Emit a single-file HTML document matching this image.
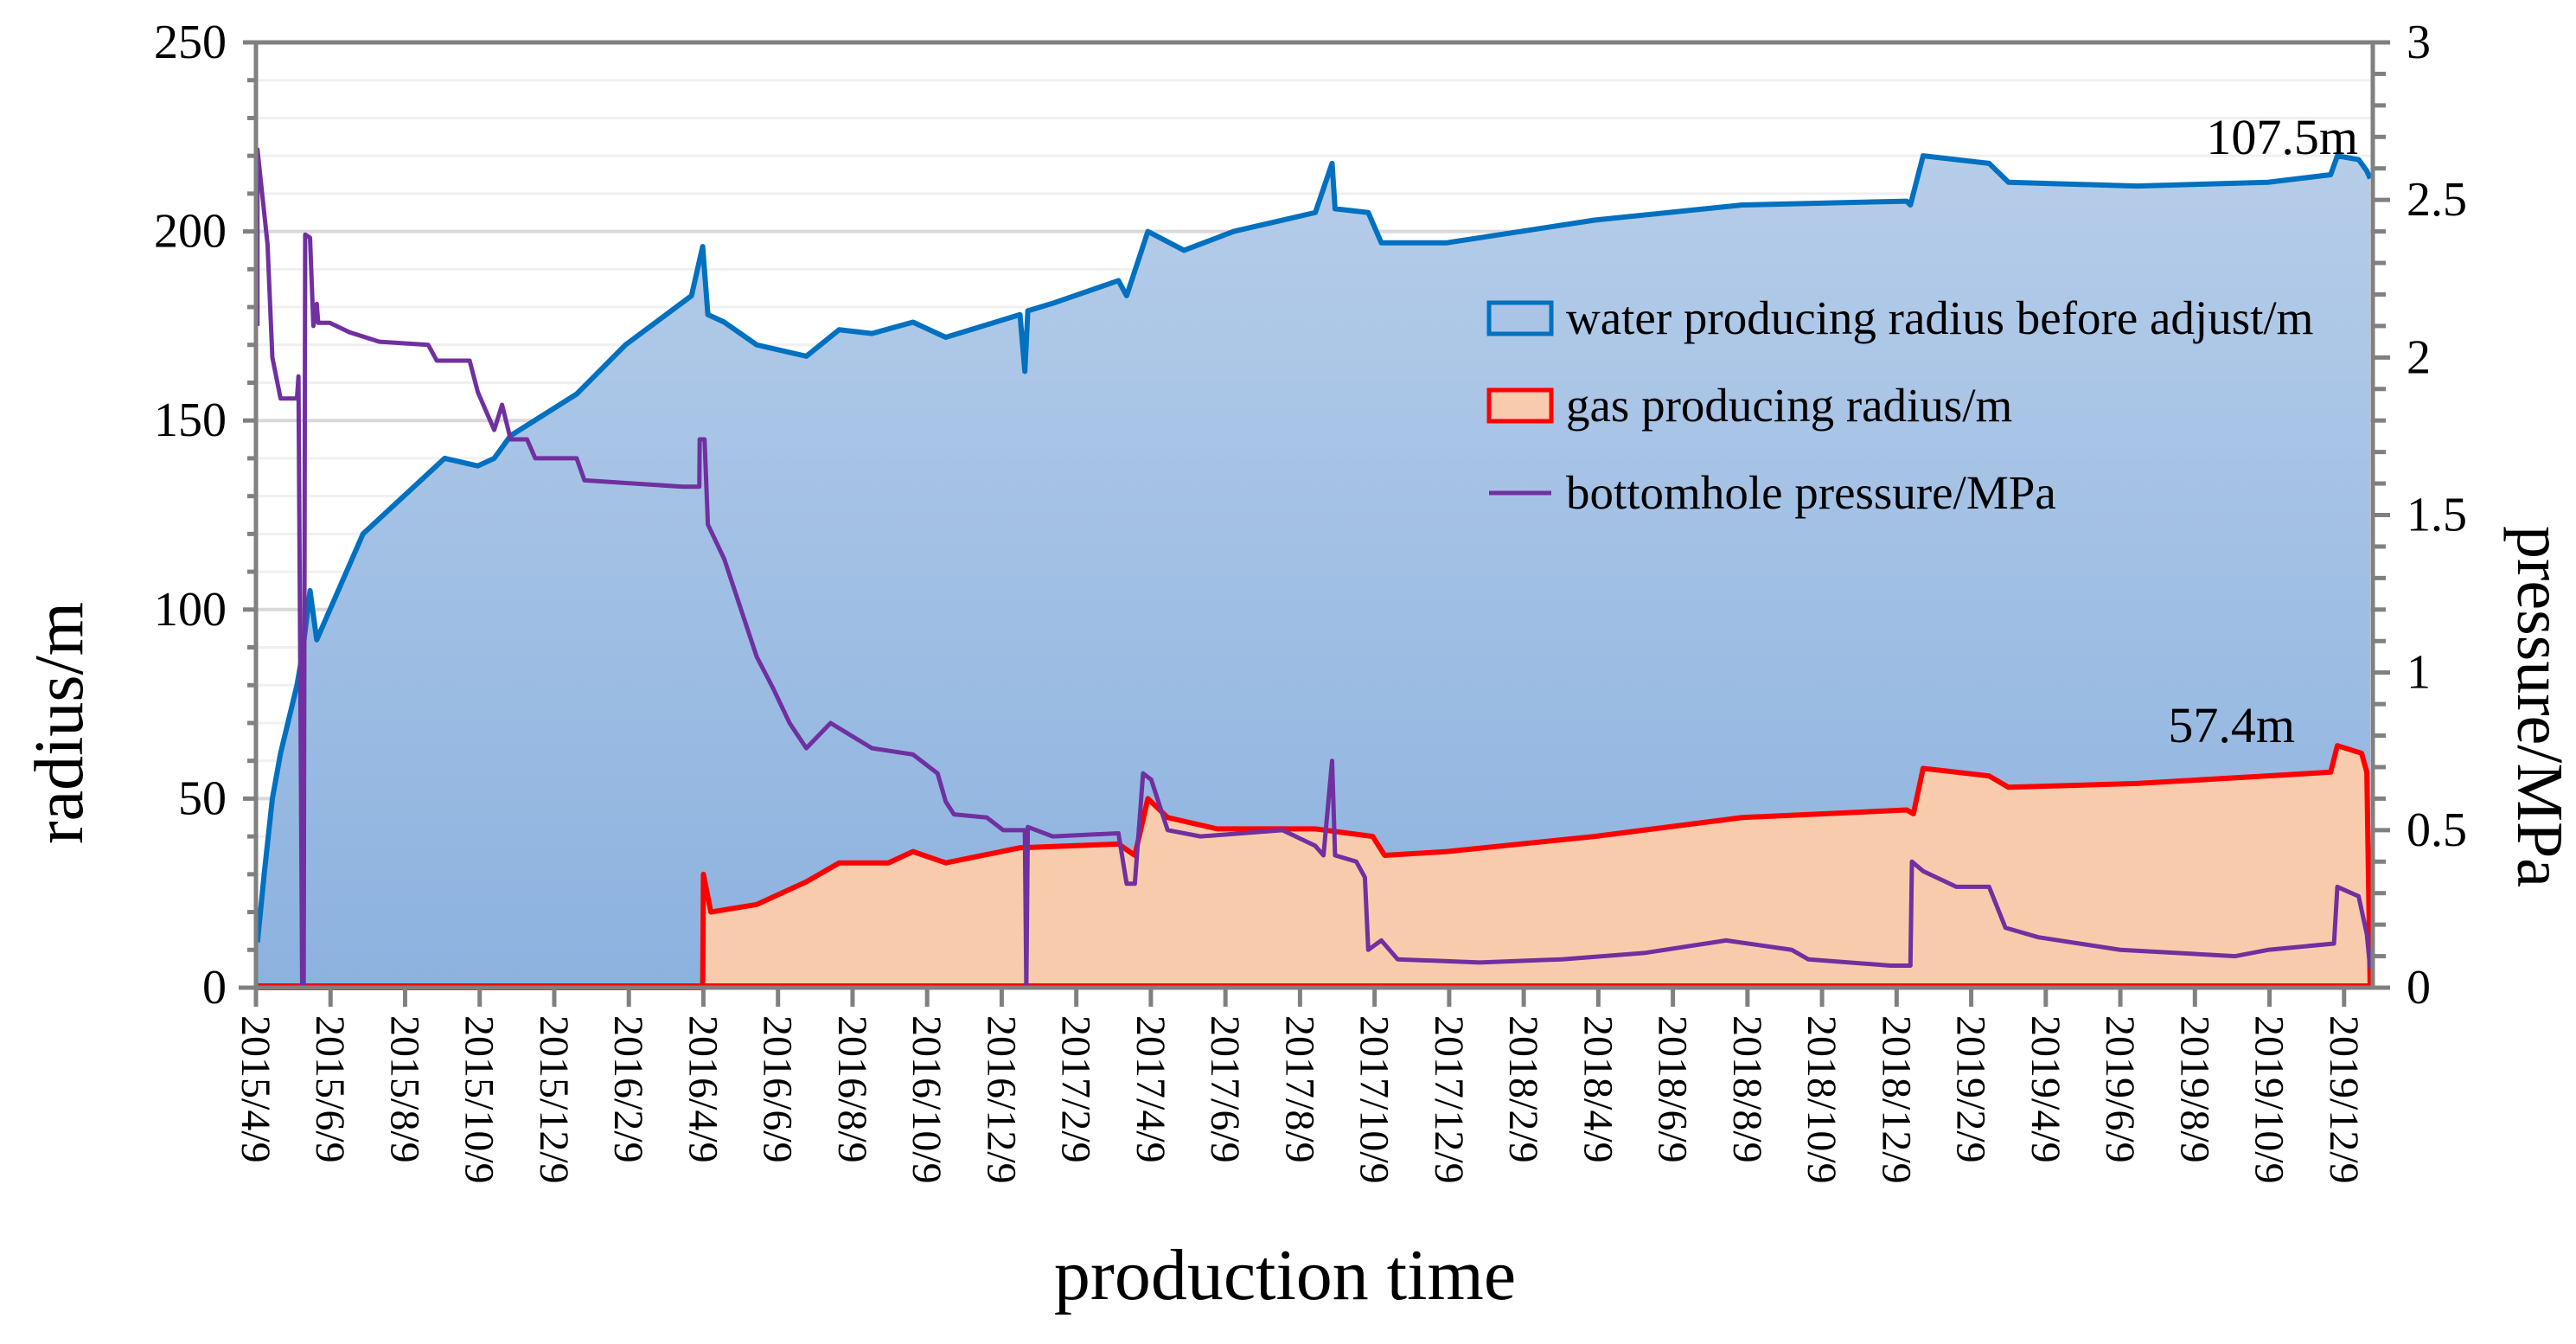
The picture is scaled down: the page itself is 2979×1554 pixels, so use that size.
<!DOCTYPE html>
<html><head><meta charset="utf-8"><style>
html,body{margin:0;padding:0;background:#fff;}
svg{display:block;font-family:"Liberation Serif",serif;}
</style></head><body>
<svg id="chart" width="2979" height="1554" viewBox="0 0 2979 1554" xmlns="http://www.w3.org/2000/svg">
<defs><linearGradient id="bg" x1="0" y1="0" x2="0" y2="1"><stop offset="0" stop-color="#b6cde9"/><stop offset="1" stop-color="#8cb2df"/></linearGradient></defs>
<g id="grid"></g>
<g id="marks"></g>
<g id="axes"></g>
<text x="2727" y="178" text-anchor="end" font-size="58">107.5m</text>
<text x="2654" y="858" text-anchor="end" font-size="58">57.4m</text>
<text transform="translate(95,836) rotate(-90)" text-anchor="middle" font-size="80">radius/m</text>
<text transform="translate(2912,817) rotate(90)" text-anchor="middle" font-size="76">pressure/MPa</text>
<text x="1486" y="1502" text-anchor="middle" font-size="84">production time</text>
<g>
<rect x="1722" y="350" width="72" height="36" fill="#a9c4e6" stroke="#0070c0" stroke-width="5"/>
<text x="1811" y="386" font-size="55">water producing radius before adjust/m</text>
<rect x="1722" y="451" width="72" height="36" fill="#f8cbad" stroke="#ff0000" stroke-width="5"/>
<text x="1811" y="487" font-size="55">gas producing radius/m</text>
<line x1="1722" y1="570" x2="1794" y2="570" stroke="#7030a0" stroke-width="5"/>
<text x="1811" y="588" font-size="55">bottomhole pressure/MPa</text>
</g>
</svg>
<script>
const xTickLabels=["2015/4/9","2015/6/9","2015/8/9","2015/10/9","2015/12/9","2016/2/9","2016/4/9","2016/6/9","2016/8/9","2016/10/9","2016/12/9","2017/2/9","2017/4/9","2017/6/9","2017/8/9","2017/10/9","2017/12/9","2018/2/9","2018/4/9","2018/6/9","2018/8/9","2018/10/9","2018/12/9","2019/2/9","2019/4/9","2019/6/9","2019/8/9","2019/10/9","2019/12/9"];
const yTicks=[0,50,100,150,200,250];
const y2Ticks=[0,0.5,1,1.5,2,2.5,3];
const y2TickLabels=["0","0.5","1","1.5","2","2.5","3"];
const waterMonths=[0.04,0.22,0.44,0.66,1.10,1.24,1.45,1.63,2.87,5.06,5.95,6.39,6.83,8.6,9.91,11.68,11.98,12.12,12.56,13.43,14.76,15.64,16.52,17.62,18.5,20.49,20.62,20.7,21.37,23.13,23.35,23.92,24.89,26.22,28.41,28.86,28.94,29.83,30.18,31.94,35.9,39.86,44.27,44.37,44.71,46.48,47.0,50.44,53.96,55.64,55.82,56.39,56.61,56.7];
const waterValues=[12,30,50,62,80,88,105,92,120,140,138,140,146,157,170,183,196,178,176,170,167,174,173,176,172,178,163,179,181,187,183,200,195,200,205,218,206,205,197,197,203,207,208,207,220,218,213,212,213,215,220,219,216,214];
const gasMonths=[0,11.98,12.0,12.2,13.43,14.76,15.64,16.96,17.62,18.5,20.49,23.13,23.57,23.92,24.45,25.78,28.41,29.95,30.27,31.94,35.9,39.86,44.27,44.45,44.71,46.48,47.0,50.44,53.96,55.64,55.82,56.47,56.61,56.7];
const gasValues=[0,0,30,20,22,28,33,33,36,33,37,38,35,50,45,42,42,40,35,36,40,45,47,46,58,56,53,54,56,57,64,62,57,0];
const presMonths=[0.04,0.04,0.22,0.31,0.44,0.66,1.10,1.14,1.24,1.28,1.32,1.45,1.54,1.63,1.67,1.98,2.51,3.31,4.62,4.85,5.73,5.95,6.39,6.6,6.83,7.27,7.49,8.6,8.81,11.45,11.89,11.9,12.03,12.12,12.56,13.43,13.87,14.31,14.76,15.41,16.52,17.62,18.28,18.5,18.72,19.6,20.04,20.62,20.66,20.7,21.37,23.13,23.35,23.57,23.79,24.01,24.45,25.33,27.53,28.41,28.63,28.86,28.94,29.51,29.74,29.83,30.18,30.62,32.82,35.03,37.23,39.43,41.19,41.63,43.84,44.37,44.41,44.71,45.6,46.48,46.92,47.8,50.0,53.08,53.96,55.73,55.82,56.39,56.61,56.7];
const presValues=[2.10,2.66,2.46,2.36,2.0,1.87,1.87,1.94,0,0,2.39,2.38,2.10,2.17,2.11,2.11,2.08,2.05,2.04,1.99,1.99,1.89,1.77,1.85,1.74,1.74,1.68,1.68,1.61,1.59,1.59,1.74,1.74,1.47,1.36,1.05,0.95,0.84,0.76,0.84,0.76,0.74,0.68,0.59,0.55,0.54,0.50,0.50,0,0.51,0.48,0.49,0.33,0.33,0.68,0.66,0.50,0.48,0.50,0.45,0.42,0.72,0.42,0.40,0.35,0.12,0.15,0.09,0.08,0.09,0.11,0.15,0.12,0.09,0.07,0.07,0.40,0.37,0.32,0.32,0.19,0.16,0.12,0.10,0.12,0.14,0.32,0.29,0.17,0.06];
const L=296,R=2744,T=49,B=1142,XMAX=56.77,YMAX=250,Y2MAX=3;
const xs=m=>L+(R-L)*m/XMAX;
const ys=v=>B-(B-T)*v/YMAX;
const y2s=v=>B-(B-T)*v/Y2MAX;
const NS="http://www.w3.org/2000/svg";
function mk(tag,attrs,parent){const e=document.createElementNS(NS,tag);for(const k in attrs)e.setAttribute(k,attrs[k]);parent.appendChild(e);return e;}
const grid=document.getElementById('grid'),marks=document.getElementById('marks'),axes=document.getElementById('axes');
for(let v=10;v<=YMAX;v+=10){const g=mk('line',{x1:L,x2:R,y1:ys(v),y2:ys(v),stroke:v%50===0?'#d9d9d9':'#f0f0f0','stroke-width':v%50===0?4:3},grid);

}
function areaPath(ms,vs){let d='M'+xs(ms[0])+','+B;for(let i=0;i<ms.length;i++)d+='L'+xs(ms[i])+','+ys(vs[i]);d+='L'+xs(ms[ms.length-1])+','+B+'Z';return d;}
function linePath(ms,vs,f){let d='';for(let i=0;i<ms.length;i++)d+=(i?'L':'M')+xs(ms[i])+','+f(vs[i]);return d;}
const wa=mk('path',{d:areaPath(waterMonths,waterValues),fill:'url(#bg)'},marks);


const wl=mk('path',{d:linePath(waterMonths,waterValues,ys),fill:'none',stroke:'#0070c0','stroke-width':6,'stroke-linejoin':'round'},marks);


const ga=mk('path',{d:areaPath(gasMonths,gasValues),fill:'#f8cbad'},marks);


const gl=mk('path',{d:linePath(gasMonths,gasValues,ys)+'M'+L+','+(B-2)+'L'+xs(gasMonths[gasMonths.length-1])+','+(B-2),fill:'none',stroke:'#ff0000','stroke-width':6,'stroke-linejoin':'round'},marks);


const pl=mk('path',{d:linePath(presMonths,presValues,y2s),fill:'none',stroke:'#7030a0','stroke-width':5,'stroke-linejoin':'round'},marks);


mk('line',{x1:L,x2:L,y1:T,y2:B+8,stroke:'#808080','stroke-width':5},axes);
mk('line',{x1:R,x2:R,y1:T,y2:B,stroke:'#808080','stroke-width':5},axes);
mk('line',{x1:L-15,x2:R+20,y1:T,y2:T,stroke:'#808080','stroke-width':5},axes);
mk('line',{x1:L-20,x2:R+20,y1:B,y2:B,stroke:'#808080','stroke-width':5},axes);
for(let v=0;v<=YMAX;v+=10){mk('line',{x1:v%50===0?L-15:L-10,x2:L,y1:ys(v),y2:ys(v),stroke:'#808080','stroke-width':5},axes);}
for(let v=0;v<=30;v++){mk('line',{x1:R,x2:R+(v%5===0?20:15),y1:y2s(v/10),y2:y2s(v/10),stroke:'#808080','stroke-width':5},axes);}
yTicks.forEach(v=>{const t=mk('text',{x:262,y:ys(v)+18,'text-anchor':'end','font-size':56},axes);t.textContent=v;

});
y2Ticks.forEach((v,i)=>{const t=mk('text',{x:2783,y:y2s(v)+18,'font-size':56},axes);t.textContent=y2TickLabels[i];

});
xTickLabels.forEach((s,i)=>{const x=xs(i*2);mk('line',{x1:x,x2:x,y1:B,y2:B+22,stroke:'#808080','stroke-width':5},axes);
const t=mk('text',{transform:'translate('+(x-16)+','+(B+32)+') rotate(90)','font-size':48},axes);t.textContent=s;

});
</script>
</body></html>
